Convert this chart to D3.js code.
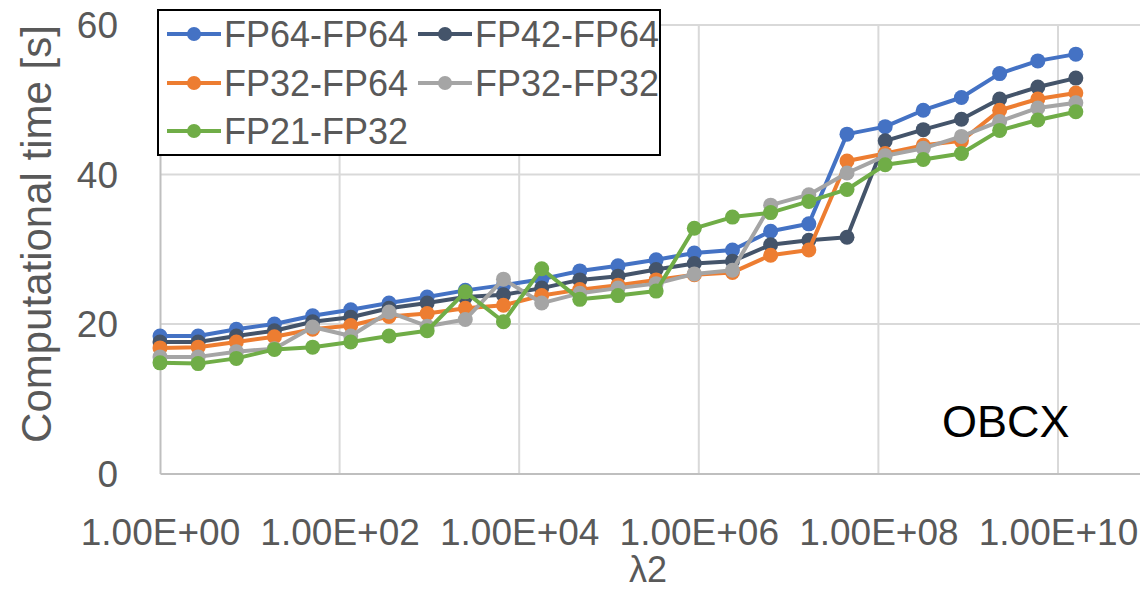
<!DOCTYPE html>
<html>
<head>
<meta charset="utf-8">
<script src="https://cdn.jsdelivr.net/npm/d3@7"></script>
<style>
  html, body { margin: 0; padding: 0; background: #ffffff; }
  svg { display: block; }
  text { font-family: "Liberation Sans", Arial, sans-serif; }
</style>
</head>
<body>
<svg id="chart" width="1140" height="591"></svg>
<script>
// λ2 sweep values
const lambda2 = [1, 2.66, 7.08, 18.8, 50.1, 133, 355, 944, 2510, 6680,
  17800, 47300, 126000, 335000, 891000, 2370000, 6310000, 16800000,
  44700000, 119000000, 316000000, 841000000, 2240000000, 5960000000, 15800000000];

// Computational time [s] per precision configuration
const fp64fp64 = [18.4, 18.4, 19.3, 20.0, 21.1, 21.9, 22.8, 23.6, 24.5, 25.2,
  26.0, 27.1, 27.8, 28.6, 29.5, 29.9, 32.4, 33.4, 45.4, 46.4, 48.6, 50.3, 53.5, 55.2, 56.1];
const fp42fp64 = [17.6, 17.6, 18.4, 19.1, 20.3, 20.9, 22.1, 22.8, 23.6, 23.9,
  24.8, 25.9, 26.4, 27.3, 28.1, 28.4, 30.6, 31.2, 31.6, 44.5, 46.0, 47.4, 50.1, 51.7, 52.9];
const fp32fp64 = [16.8, 16.9, 17.6, 18.3, 19.3, 19.8, 21.0, 21.4, 22.1, 22.5,
  23.8, 24.6, 25.2, 25.9, 26.6, 26.9, 29.2, 29.9, 41.8, 42.8, 43.9, 44.5, 48.6, 50.1, 50.9];
const fp32fp32 = [15.6, 15.6, 16.3, 16.7, 19.6, 18.4, 21.6, 19.7, 20.6, 26.0,
  22.8, 24.1, 24.8, 25.4, 26.7, 27.2, 35.9, 37.3, 40.2, 42.5, 43.5, 45.1, 47.1, 48.9, 49.6];
const fp21fp32 = [14.8, 14.7, 15.4, 16.6, 16.9, 17.6, 18.4, 19.1, 24.3, 20.3,
  27.4, 23.3, 23.8, 24.4, 32.8, 34.3, 34.9, 36.4, 38.0, 41.3, 42.0, 42.8, 45.9, 47.3, 48.4];

const seriesNames = ["FP64-FP64", "FP42-FP64", "FP32-FP64", "FP32-FP32", "FP21-FP32"];
const seriesValues = [fp64fp64, fp42fp64, fp32fp64, fp32fp32, fp21fp32];
const seriesColors = ["#4472C4", "#44546A", "#ED7D31", "#A5A5A5", "#70AD47"];

const xTicks = [1e0, 1e2, 1e4, 1e6, 1e8, 1e10];
const yTicks = [0, 20, 40, 60];

const svg = d3.select("#chart");
const textColor = "#595959";

const x = d3.scaleLog().domain([1, 1e12]).range([160, 1237.6]);
const y = d3.scaleLinear().domain([0, 60]).range([473.5, 25]);

// gridlines
const grid = svg.append("g");
grid.selectAll("line.h").data(yTicks.filter(d => d > 0)).join("line")
  .attr("x1", x.range()[0]).attr("x2", x.range()[1])
  .attr("y1", d => y(d)).attr("y2", d => y(d))
  .attr("stroke", "#d9d9d9").attr("stroke-width", 2);
grid.selectAll("line.v").data(xTicks.filter(d => d > 1).concat([1e12])).join("line")
  .attr("x1", d => x(d)).attr("x2", d => x(d))
  .attr("y1", y(0)).attr("y2", y(60))
  .attr("stroke", "#d9d9d9").attr("stroke-width", 2);

// axes
const xAxis = svg.append("g").attr("transform", `translate(0,${y(0)})`)
  .call(d3.axisBottom(x).tickValues(xTicks).tickSize(0)
    .tickFormat(d => {
      const e = Math.round(Math.log10(d));
      return "1.00E+" + String(e).padStart(2, "0");
    }));
xAxis.select(".domain").attr("stroke", "#bfbfbf").attr("stroke-width", 2);
xAxis.selectAll("text").attr("fill", textColor).attr("font-size", 37)
  .attr("dy", null).attr("y", 71);

const yAxis = svg.append("g").attr("transform", `translate(${x(1)},0)`)
  .call(d3.axisLeft(y).tickValues(yTicks).tickSize(0));
yAxis.select(".domain").attr("stroke", "#bfbfbf").attr("stroke-width", 2);
yAxis.selectAll("text").attr("fill", textColor).attr("font-size", 37)
  .attr("x", -42).attr("dy", "0.35em");

// axis titles
svg.append("text")
  .attr("transform", "translate(51,234) rotate(-90)")
  .attr("text-anchor", "middle")
  .attr("fill", textColor).attr("font-size", 42)
  .text("Computational time [s]");
svg.append("text")
  .attr("x", 648).attr("y", 582)
  .attr("text-anchor", "middle")
  .attr("fill", textColor).attr("font-size", 36)
  .text("λ2");

// series lines and markers
const line = d3.line().x((d, i) => x(lambda2[i])).y(d => y(d));
seriesValues.forEach((vals, s) => {
  const g = svg.append("g");
  g.append("path").datum(vals)
    .attr("d", line).attr("fill", "none")
    .attr("stroke", seriesColors[s]).attr("stroke-width", 4)
    .attr("stroke-linejoin", "round");
  g.selectAll("circle").data(vals).join("circle")
    .attr("cx", (d, i) => x(lambda2[i])).attr("cy", d => y(d))
    .attr("r", 7.5).attr("fill", seriesColors[s]);
});

// annotation
svg.append("text")
  .attr("x", 942).attr("y", 437)
  .attr("fill", "#000000").attr("font-size", 45)
  .text("OBCX");

// legend
const legend = svg.append("g");
legend.append("rect")
  .attr("x", 158).attr("y", 10).attr("width", 502).attr("height", 145)
  .attr("fill", "#ffffff").attr("stroke", "#000000").attr("stroke-width", 2);
const legendPos = [[167, 34], [418, 34], [167, 83], [418, 83], [167, 131]];
seriesNames.forEach((name, s) => {
  const [lx, ly] = legendPos[s];
  const item = legend.append("g");
  item.append("line").attr("x1", lx).attr("x2", lx + 54)
    .attr("y1", ly).attr("y2", ly)
    .attr("stroke", seriesColors[s]).attr("stroke-width", 4);
  item.append("circle").attr("cx", lx + 27).attr("cy", ly).attr("r", 7)
    .attr("fill", seriesColors[s]);
  item.append("text").attr("x", lx + 57).attr("y", ly + 13)
    .attr("fill", textColor).attr("font-size", 36)
    .text(name);
});
</script>
</body>
</html>
